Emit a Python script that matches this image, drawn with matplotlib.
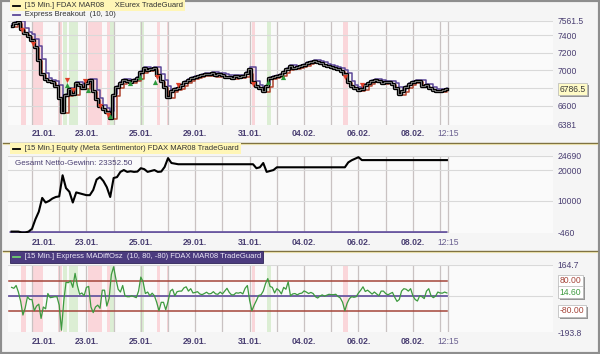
import numpy as np
import matplotlib
matplotlib.use('Agg')
import matplotlib.pyplot as plt
import matplotlib.transforms as mtransforms
import matplotlib.patheffects as pe
from matplotlib.patches import Rectangle
from matplotlib.lines import Line2D
import pandas as pd

plt.rcParams['font.family'] = ['Liberation Sans', 'DejaVu Sans']

# ---------------- data ----------------
tick_days = [0, 2, 4, 6, 8, 10, 12, 14, 15.3]
tick_labels = ['21.01.', '23.01.', '25.01.', '29.01.', '31.01.', '04.02.', '06.02.', '08.02.', '12:15']
grid_days = [0, 1, 2, 3, 4, 5, 6, 7, 8, 9, 10, 11, 12, 13, 14, 15, 15.3]

price_start = -0.75          # first bar (trading-day units)
price_step = 0.125           # spacing of sampled bars (days)
price = [7510, 7540, 7545, 7470, 7425, 7395, 7345, 7265, 7120, 6960,
         6905, 6880, 6870, 6825, 6690, 6530, 6720, 6790, 6735, 6860,
         6835, 6800, 6860, 6890, 6765, 6675, 6595, 6565, 6530, 6460,
         6720, 6810, 6860, 6890, 6880, 6870, 6890, 6915, 6985, 7030,
         7005, 7015, 7030, 6950, 6880, 6810, 6700, 6765, 6790, 6800,
         6835, 6870, 6890, 6915, 6925, 6935, 6950, 6960, 6955, 6970,
         6945, 6960, 6950, 6925, 6930, 6915, 6935, 6925, 6940, 6970,
         7020, 6870, 6825, 6800, 6765, 6825, 6915, 6925, 6940, 6950,
         6985, 7015, 7050, 7030, 7040, 7050, 7060, 7085, 7095, 7110,
         7095, 7085, 7060, 7050, 7040, 7030, 7015, 6995, 6960, 6870,
         6825, 6800, 6780, 6790, 6835, 6860, 6880, 6890, 6880, 6860,
         6870, 6870, 6845, 6800, 6735, 6765, 6810, 6845, 6870, 6880,
         6880, 6825, 6835, 6800, 6780, 6765, 6770, 6780, 6787]

equity = [0, 0, 0, -300, -300, 0, 900, 4000, 6500, 11000,
          9500, 10000, 10800, 11300, 11500, 18400, 14200, 13000, 9500, 12800,
          12500, 12200, 11900, 11900, 13600, 17000, 17800, 16500, 14500, 11300,
          17500, 17800, 19500, 20100, 19500, 19700, 19500, 19600, 20700, 20400,
          19500, 19800, 20100, 19500, 19600, 21100, 24000, 22400, 22200, 22000,
          22000, 22000, 22000, 22000, 22000, 22000, 22000, 22000, 22000, 22000,
          22000, 22000, 22000, 22000, 22000, 22000, 22000, 22000, 22000, 22000,
          22000, 22000, 20700, 21000, 22400, 19500, 19800, 20100, 21000, 21000,
          21000, 21000, 21000, 21000, 21000, 21000, 21000, 21000, 21000, 21000,
          21000, 21000, 21000, 21000, 21000, 21000, 21000, 21000, 21000, 22600,
          23300, 23800, 24300, 23352.5, 23352.5, 23352.5, 23352.5, 23352.5, 23352.5, 23352.5,
          23352.5, 23352.5, 23352.5, 23352.5, 23352.5, 23352.5, 23352.5, 23352.5, 23352.5, 23352.5,
          23352.5, 23352.5, 23352.5, 23352.5, 23352.5, 23352.5, 23352.5, 23352.5, 23352.5]

osc_step = 1 / 12
osc = [45, 40, 55, 20, -30, -103, -65, -5, -20, -20,
       -80, -55, -45, -121, -60, -70, 12, -10, -8, -5,
       -5, -50, -184, -30, 72, 70, 80, 45, 120, 55,
       8, 15, 0, 45, 50, -60, -90, -60, -50, -67,
       30, 30, -55, -15, 113, 155, 90, 35, 20, 55,
       0, -5, -5, 0, -5, -10, 25, 100, 75, 12,
       20, 0, 14, 0, -35, -80, -35, -35, -75, -31,
       25, 35, 0, 22, 25, 25, 42, 48, 25, 38,
       15, 18, 22, 10, 6, 12, 19, 10, 12, 22,
       10, 8, 20, 10, 25, 40, 18, 5, 5, 16,
       14, 18, 10, 40, 55, -25, -80, -50, -25, 2,
       5, 25, 65, 92, 50, 45, 15, 38, 28, 10,
       45, 35, 75, 0, 10, 12, 5, 12, 14, 26,
       20, 12, 18, 12, -5, -12, -2, 5, -2, 3,
       8, 6, 6, 8, -4, -12, -35, -80, -40, -15,
       -5, -8, -5, 15, 30, 48, 23, 30, 20, 9,
       20, 10, 0, 25, 25, 12, 5, 12, 18, -8,
       -30, -20, 25, 38, 35, 25, 38, 0, -20, -28,
       0, -5, -15, 25, 38, 0, -10, -2, 20, 15,
       14, 20, 15]

buy_t = [1.29, 2.06, 2.87, 3.60, 3.97, 4.52, 8.68, 9.23]
buy_p = [6835, 6780, 6480, 6860, 6930, 6870, 6870, 6925]
sell_t = [-0.37, 0.04, 1.29, 1.51, 1.95, 2.50, 2.79, 4.60, 5.37, 8.13, 11.51, 12.13]
sell_p = [7460, 7300, 6890, 6780, 6880, 6600, 6495, 6925, 6840, 6850, 6925, 6840]

pink_zones = [(-0.40, -0.22), (0.04, 0.40), (0.96, 1.10), (2.06, 2.57), (2.76, 2.87),
              (4.60, 4.71), (4.96, 5.02), (8.09, 8.20), (11.43, 11.62)]
green_zones = [(1.14, 1.29), (1.36, 1.70), (2.87, 3.05), (3.97, 4.12), (8.64, 8.79)]

last_price = 6786.5
net_profit = 23352.50
osc_levels = [80.00, -80.00]
osc_last = 14.60

# ---------------- figure ----------------
W, H = 600, 354
fig = plt.figure(figsize=(W / 100, H / 100), dpi=100, facecolor='#F5F5F5')

def fx(px):
    return px / W

def fy(py):
    return 1 - py / H

XL, XR = 8, 553
def make_ax(top, bottom):
    ax = fig.add_axes([fx(XL), fy(bottom), fx(XR - XL), (bottom - top) / H])
    ax.set_facecolor('#FAFAFA')
    for s in ax.spines.values():
        s.set_visible(False)
    ax.set_xlim(-0.882, 19.15)
    return ax

ax1 = make_ax(21, 125)
ax2 = make_ax(156, 233)
ax3 = make_ax(265, 332)

t_price = price_start + np.arange(len(price)) * price_step
t_osc = price_start + np.arange(len(osc)) * osc_step
t_end = t_price[-1]

GRIDV = '#C9C2C2'
GRIDH = '#D9D9D9'
LBL = '#4A3F72'

for ax in (ax1, ax2, ax3):
    for g in grid_days:
        ax.axvline(g, color=GRIDV, lw=0.9, zorder=1)
    ax.set_xticks(tick_days)
    ax.set_xticklabels(tick_labels)
    ax.tick_params(axis='x', length=0, labelsize=6.2, colors=LBL)
    labs = ax.get_xticklabels()
    for lab in labs[:-1]:
        lab.set_fontweight('bold')
    labs[0].set_ha('left')
    labs[-1].set_color('#6A6090')
    ax.yaxis.tick_right()
    ax.tick_params(axis='y', length=0, labelsize=6.2, colors=LBL, pad=3.5)

ax1.tick_params(axis='x', pad=3.2)
ax2.tick_params(axis='x', pad=3.8)
ax3.tick_params(axis='x', pad=3.8)

# shading zones (price + oscillator panels)
for ax in (ax1, ax3):
    for a, b in pink_zones:
        ax.axvspan(a, b, color='#FAD6DA', lw=0, zorder=0.5)
    for a, b in green_zones:
        ax.axvspan(a, b, color='#DCEED4', lw=0, zorder=0.5)

# ---- panel 1: price ----
ax1.set_ylim(6381, 7561.5)
for v in [7400, 7200, 7000, 6800, 6600, 7561.5]:
    ax1.axhline(v, color=GRIDH, lw=0.8, zorder=1)
ax1.set_yticks([7561.5, 7400, 7200, 7000, 6600, 6381])
ax1.set_yticklabels(['7561.5', '7400', '7200', '7000', '6600', '6381'])

s = pd.Series(price)
upper = s.rolling(2, min_periods=1).max() + 14
lower = s.rolling(2, min_periods=1).min() - 14
ax1.plot(t_price, upper, color='#5B4697', lw=1.1, drawstyle='steps-post', zorder=3)
ax1.plot(t_price, lower, color='#B0442F', lw=1.1, drawstyle='steps-post', zorder=3)
ax1.plot(t_price, price, color='black', lw=2.4, zorder=4, drawstyle='steps-mid')
ax1.plot(t_price, price, color='white', lw=0.45, zorder=5, alpha=0.7, drawstyle='steps-mid')
ax1.scatter(buy_t, buy_p, marker='^', s=14, color='#2E9A3E', zorder=6, linewidths=0)
ax1.scatter(sell_t, sell_p, marker='v', s=14, color='#E0402A', zorder=6, linewidths=0)

shadow = [pe.withSimplePatchShadow(offset=(1.5, -1.5), shadow_rgbFace='#8A8A8A', alpha=0.9)]

def value_label(ax, y, text, fc, tc):
    tr = mtransforms.blended_transform_factory(ax.transAxes, ax.transData)
    t = ax.text(1.012, y, text, transform=tr, fontsize=6.2, color=tc, va='center', ha='left',
                bbox=dict(boxstyle='square,pad=0.18', fc=fc, ec='#B5B5B5', lw=0.5),
                zorder=10, clip_on=False)
    t.get_bbox_patch().set_path_effects(shadow)
    return t

value_label(ax1, last_price, f'{last_price:.1f}', '#FFFBC6', '#3A3A3A')

# ---- panel 2: equity ----
ax2.set_ylim(-460, 24690)
for v in [24690, 20000, 10000]:
    ax2.axhline(v, color=GRIDH, lw=0.8, zorder=1)
ax2.set_yticks([24690, 20000, 10000, -460])
ax2.set_yticklabels(['24690', '20000', '10000', '-460'])
ax2.plot([t_price[0] - 0.1, t_end], [0, 0], color='#6A58A0', lw=2.0, zorder=3, solid_capstyle='butt')
ax2.plot(t_price, equity, color='black', lw=1.5, zorder=4)
ax2.text(0.012, 0.9, f'Gesamt Netto-Gewinn: {net_profit:.2f}', transform=ax2.transAxes,
         fontsize=5.8, color=LBL, va='center', ha='left', zorder=6)

# ---- panel 3: oscillator ----
ax3.set_ylim(-193.8, 164.7)
for v in [164.7, 0]:
    ax3.axhline(v, color=GRIDH, lw=0.8, zorder=1)
ax3.set_yticks([164.7, -193.8])
ax3.set_yticklabels(['164.7', '-193.8'])
x0 = t_price[0] - 0.1
for lv in osc_levels:
    ax3.plot([x0, t_end], [lv, lv], color='#A5453A', lw=1.1, zorder=3)
ax3.plot([x0, t_end], [0, 0], color='#6A58A0', lw=1.3, zorder=3)
ax3.plot(t_osc, osc, color='#3D9A3F', lw=0.9, zorder=4)
value_label(ax3, 80, '80.00', 'white', '#A5453A')
value_label(ax3, osc_last + 4, f'{osc_last:.2f}', 'white', '#3D9A3F')
value_label(ax3, -80, '-80.00', 'white', '#A5453A')

# ---- titles ----
TFS = 5.5
def dash(py, color):
    fig.lines.append(Line2D([fx(13), fx(20)], [fy(py), fy(py)], transform=fig.transFigure,
                            color=color, lw=1.3, zorder=20))

def title(py, text, fc, tc, dash_color, ec='none'):
    fig.text(fx(12), fy(py), '      ' + text, fontsize=TFS, color=tc, va='center', ha='left',
             bbox=dict(boxstyle='square,pad=0.28', fc=fc, ec=ec, lw=0.6), zorder=5)
    dash(py, dash_color)

title(5.5, '[15 Min.] FDAX MAR08     XEurex TradeGuard', '#FFF6B6', '#333333', 'black')
fig.text(fx(12), fy(14.5), '      Express Breakout  (10, 10)', fontsize=TFS,
         color='#333333', va='center', ha='left')
dash(14.5, '#5B4697')
title(148.5, '[15 Min.] Equity (Meta Sentimentor) FDAX MAR08 TradeGuard', '#FFF6B6', '#333333', 'black')
title(257, '[15 Min.] Express MADiffOsz  (10, 80, -80) FDAX MAR08 TradeGuard', '#4B3B7E', '#ECE8F8',
      '#6FCF6F', ec='#2E2458')

# separators between panels
for py in (143, 251):
    fig.lines.append(Line2D([fx(3), fx(597)], [fy(py), fy(py)], transform=fig.transFigure,
                            color='#7A6C3C', lw=1.0))
    fig.lines.append(Line2D([fx(3), fx(597)], [fy(py + 1.3), fy(py + 1.3)], transform=fig.transFigure,
                            color='#E6DDA8', lw=0.8))

# outer frame
fig.patches.append(Rectangle((0, 0), 1, 1, transform=fig.transFigure, fill=False,
                             ec='#8E8E8E', lw=3.0))

fig.savefig('out.png', dpi=100, facecolor=fig.get_facecolor())
